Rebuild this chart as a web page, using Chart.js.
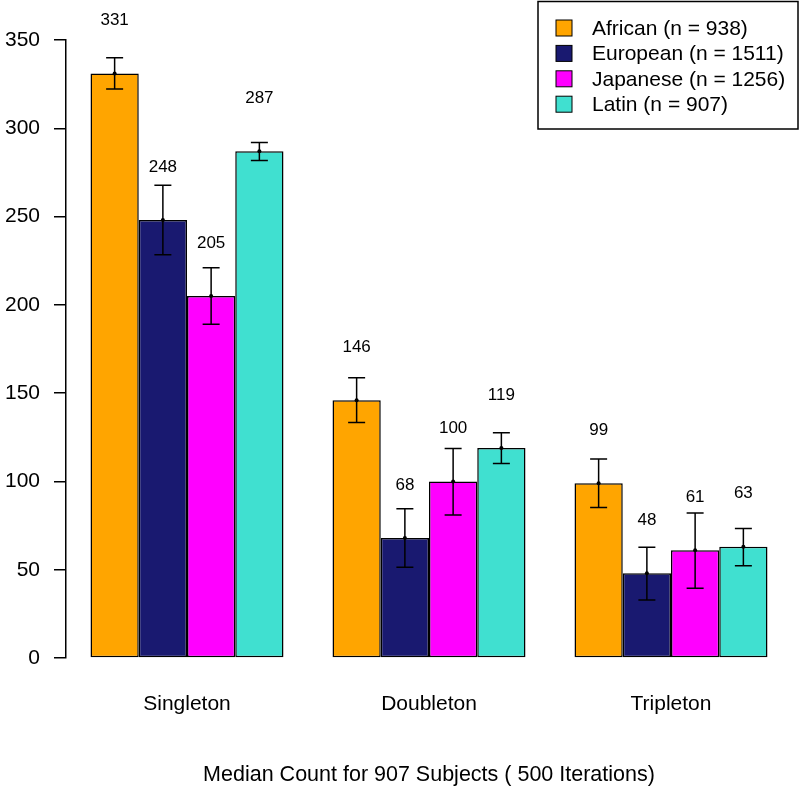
<!DOCTYPE html>
<html>
<head>
<meta charset="utf-8">
<script src="https://cdn.jsdelivr.net/npm/chart.js@4"></script>
<style>
  html, body { margin: 0; padding: 0; background: #fff; }
  #wrap { width: 800px; height: 788px; }
</style>
</head>
<body>
<div id="wrap"><canvas id="myChart"></canvas></div>
<script>
const groups = ['Singleton', 'Doubleton', 'Tripleton'];
const populations = ['African (n = 938)', 'European (n = 1511)', 'Japanese (n = 1256)', 'Latin (n = 907)'];
const colors = ['#FFA500', '#191970', '#FF00FF', '#40E0D0'];

const african = [331, 146, 99];
const european = [248, 68, 48];
const japanese = [205, 100, 61];
const latin = [287, 119, 63];

// error bar ends
const africanLow = [322.2, 133.4, 85.3];
const africanHigh = [340.0, 158.7, 112.7];
const europeanLow = [228.4, 51.4, 32.8];
const europeanHigh = [267.8, 84.5, 62.7];
const japaneseLow = [189.0, 81.0, 39.5];
const japaneseHigh = [221.0, 118.7, 82.1];
const latinLow = [281.8, 110.2, 52.3];
const latinHigh = [292.0, 127.6, 73.4];

const yTicks = [0, 50, 100, 150, 200, 250, 300, 350];
const xTitle = 'Median Count for 907 Subjects ( 500 Iterations)';

const values = [african, european, japanese, latin];
const lows = [africanLow, europeanLow, japaneseLow, latinLow];
const highs = [africanHigh, europeanHigh, japaneseHigh, latinHigh];
const labelLift = 30; // value labels sit 30 units above the bar top

const FONT = '"Liberation Sans", Arial, Helvetica, sans-serif';

const extras = {
  id: 'extras',
  afterDatasetsDraw(chart) {
    const ctx = chart.ctx;
    const y = chart.scales.y;
    ctx.save();
    chart.data.datasets.forEach((ds, i) => {
      const meta = chart.getDatasetMeta(i);
      meta.data.forEach((bar, j) => {
        const x = bar.x;
        const yLo = y.getPixelForValue(lows[i][j]);
        const yHi = y.getPixelForValue(highs[i][j]);
        ctx.strokeStyle = '#000';
        ctx.lineWidth = 1.5;
        ctx.beginPath();
        ctx.moveTo(x, yLo); ctx.lineTo(x, yHi);
        ctx.moveTo(x - 8.5, yLo); ctx.lineTo(x + 8.5, yLo);
        ctx.moveTo(x - 8.5, yHi); ctx.lineTo(x + 8.5, yHi);
        ctx.stroke();
        ctx.fillStyle = '#000';
        ctx.beginPath();
        ctx.arc(x, y.getPixelForValue(ds.data[j]), 2, 0, Math.PI * 2);
        ctx.fill();
        ctx.font = '17px ' + FONT;
        ctx.textAlign = 'center';
        ctx.textBaseline = 'middle';
        ctx.fillText(String(ds.data[j]), x, y.getPixelForValue(ds.data[j] + labelLift));
      });
    });
    ctx.restore();
  },
  afterDraw(chart) {
    const ctx = chart.ctx;
    ctx.save();
    // legend box
    ctx.strokeStyle = '#000';
    ctx.lineWidth = 1.5;
    ctx.strokeRect(538, 1.5, 260, 127.5);
    populations.forEach((p, i) => {
      const cy = 28 + i * 25.4;
      ctx.fillStyle = colors[i];
      ctx.fillRect(556, cy - 8, 16, 16);
      ctx.lineWidth = 1;
      ctx.strokeRect(556, cy - 8, 16, 16);
      ctx.fillStyle = '#000';
      ctx.font = '21px ' + FONT;
      ctx.textAlign = 'left';
      ctx.textBaseline = 'middle';
      ctx.fillText(p, 592, cy + 1);
    });
    ctx.restore();
  }
};

new Chart(document.getElementById('myChart'), {
  type: 'bar',
  data: {
    labels: groups,
    datasets: populations.map((p, i) => ({
      label: p,
      data: values[i],
      backgroundColor: colors[i],
      borderColor: '#000',
      borderWidth: 1.5,
      borderSkipped: false,
      barPercentage: 1,
      categoryPercentage: 0.7975
    }))
  },
  options: {
    responsive: true,
    maintainAspectRatio: false,
    devicePixelRatio: 1,
    animation: false,
    layout: { padding: { top: 40, right: 8, left: 0, bottom: 0 } },
    plugins: {
      legend: { display: false },
      tooltip: { enabled: false }
    },
    scales: {
      x: {
        grid: { display: false },
        border: { display: false },
        ticks: { color: '#000', font: { size: 21, family: FONT }, padding: 26 },
        title: {
          display: true,
          text: xTitle,
          color: '#000',
          font: { size: 21.5, family: FONT },
          padding: { top: 0, bottom: 0 }
        },
        afterFit(s) { s.height = 130; }
      },
      y: {
        min: 0,
        max: 350,
        afterBuildTicks(s) { s.ticks = yTicks.map(v => ({ value: v })); },
        ticks: { color: '#000', font: { size: 21, family: FONT }, padding: 14 },
        grid: { drawOnChartArea: false, drawTicks: true, tickLength: 12, color: '#000', lineWidth: 1.5 },
        border: { display: true, color: '#000', width: 1.5 },
        afterFit(s) { s.width = 66; }
      }
    }
  },
  plugins: [extras]
});
</script>
</body>
</html>
